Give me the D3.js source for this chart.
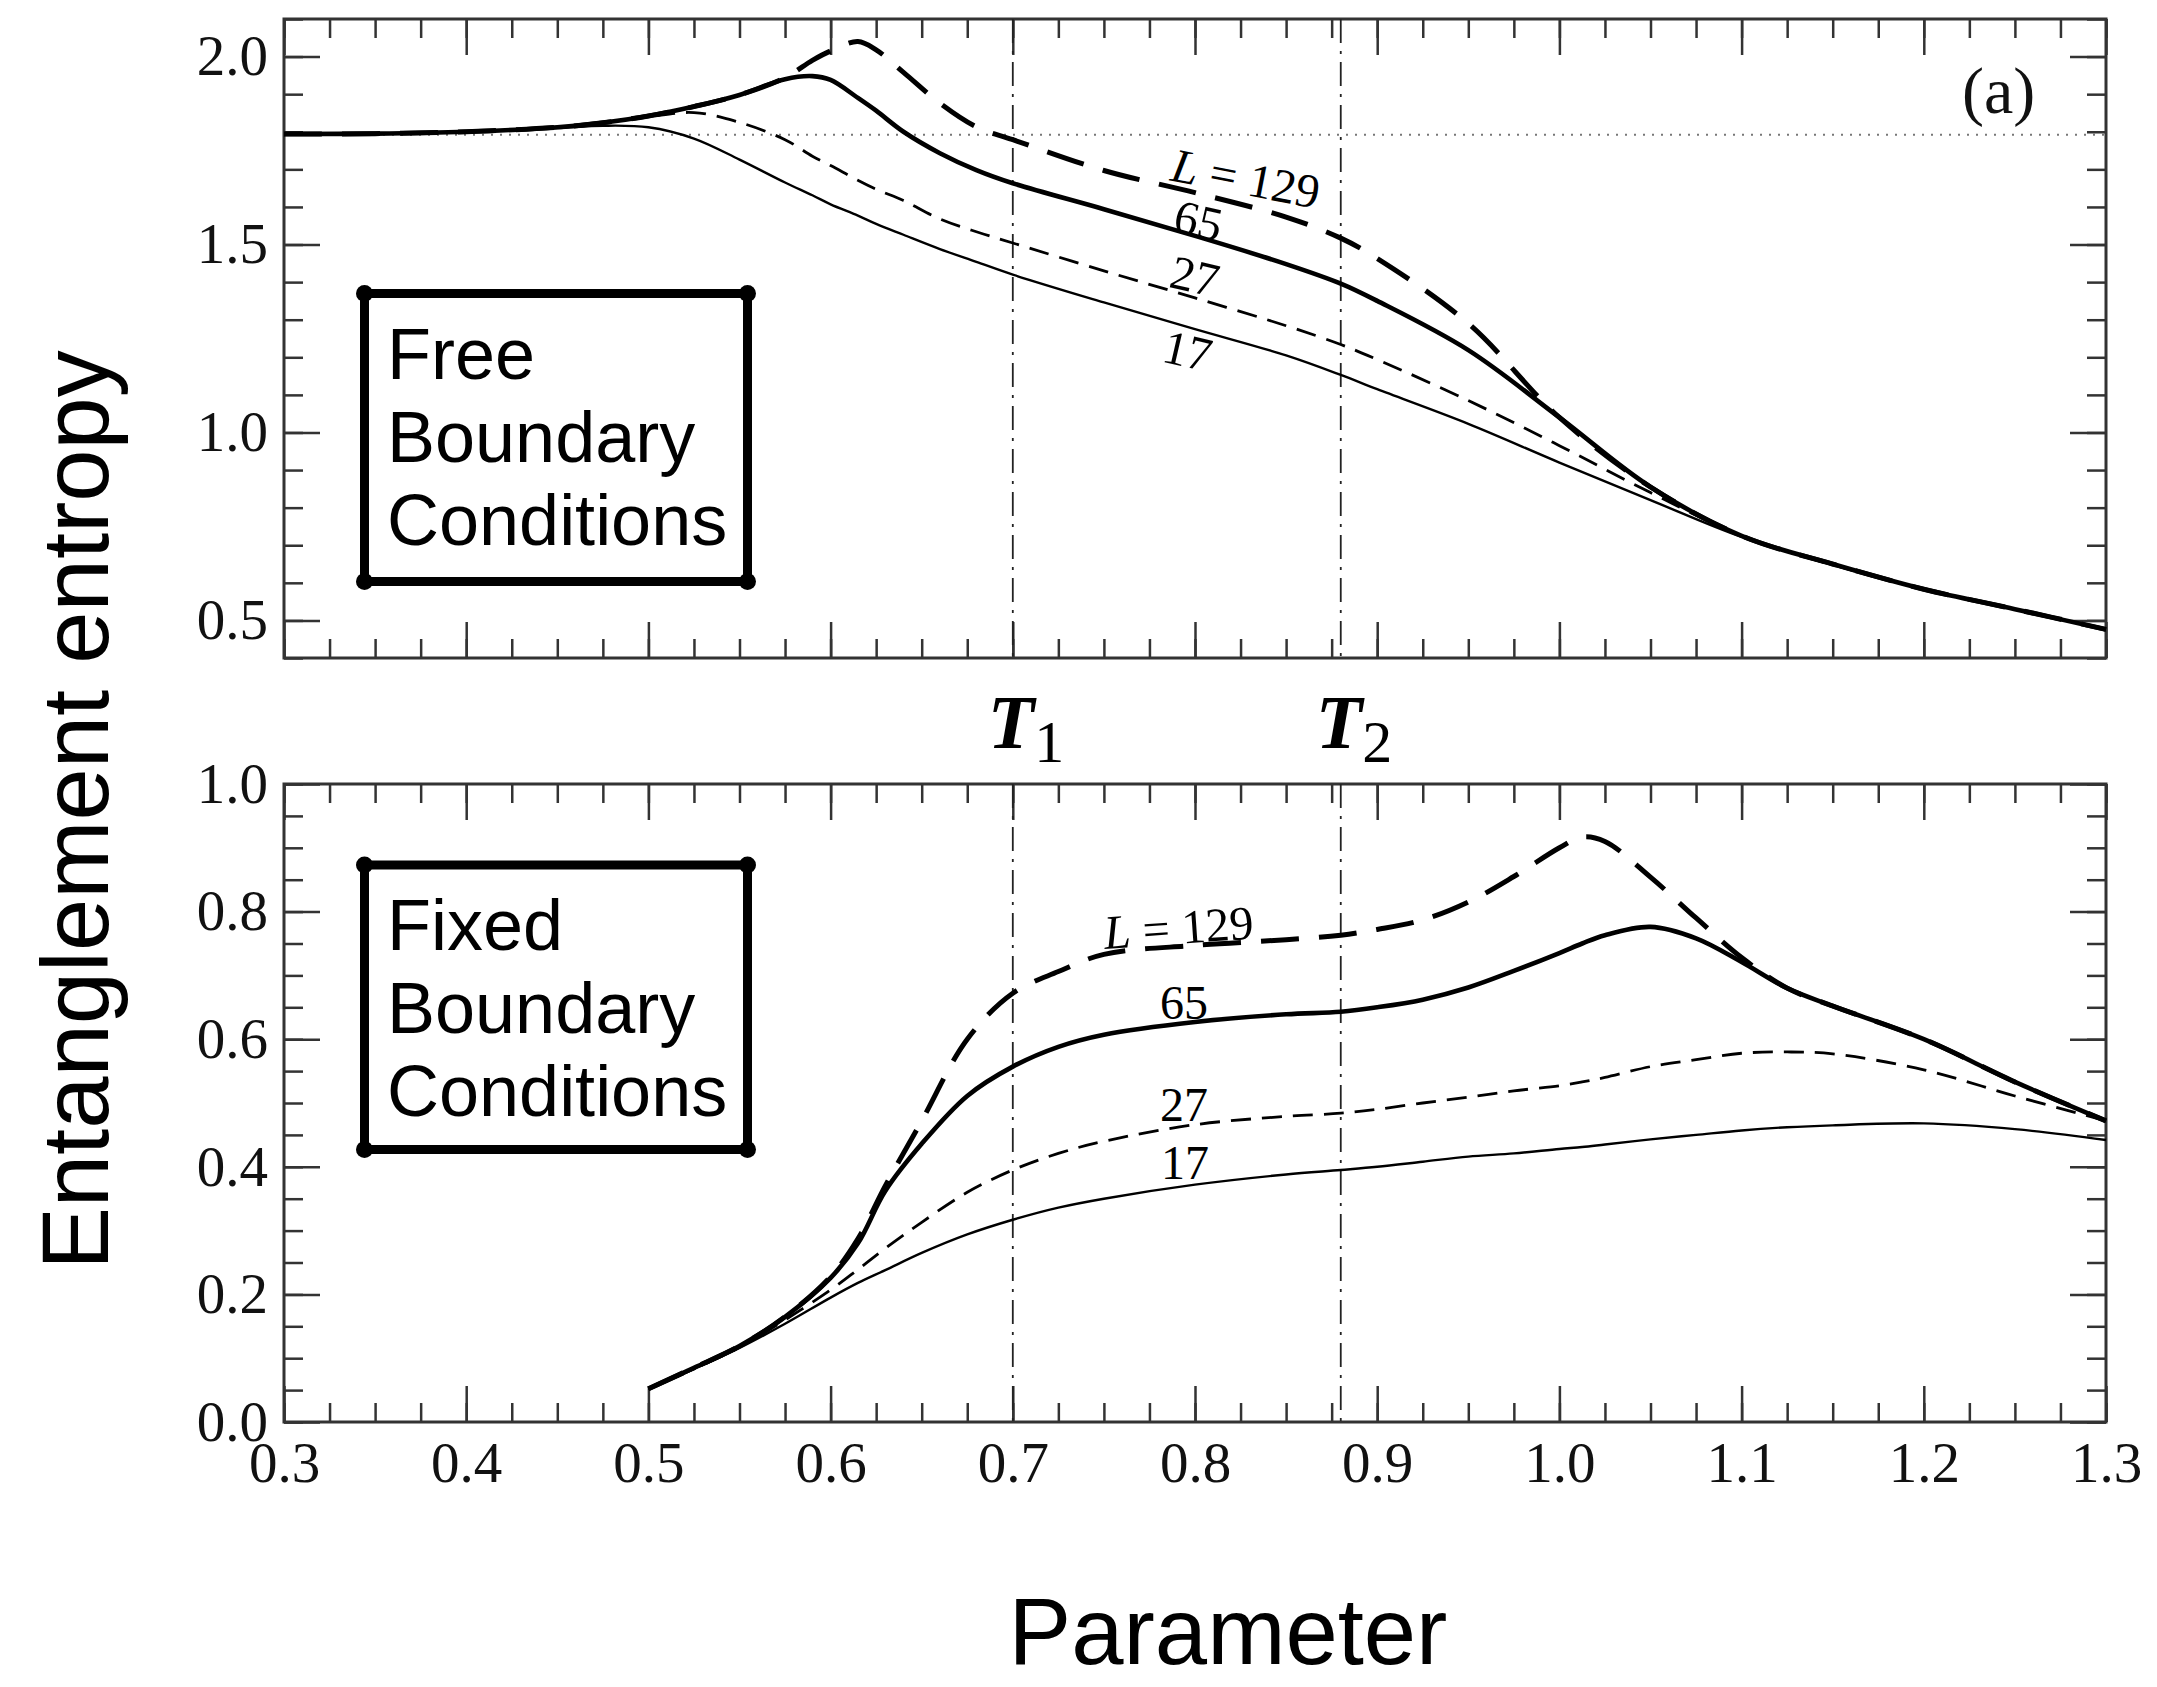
<!DOCTYPE html>
<html>
<head>
<meta charset="utf-8">
<script src="https://cdn.jsdelivr.net/npm/d3@7"></script>
<style>
  body { margin: 0; background: #fff; }
  svg { display: block; }
</style>
</head>
<body>
<div id="chart"></div>
<script>
// ---- data ----
// top panel: free boundary conditions
const topX    = [0.30, 0.35, 0.40, 0.45, 0.475, 0.50, 0.525, 0.55, 0.575, 0.59, 0.60, 0.615, 0.625, 0.64, 0.66, 0.68, 0.70, 0.75, 0.80, 0.85, 0.88, 0.90, 0.95, 1.00, 1.05, 1.10, 1.15, 1.20, 1.25, 1.30];
const topL17  = [1.794, 1.795, 1.800, 1.810, 1.816, 1.812, 1.782, 1.726, 1.665, 1.631, 1.607, 1.577, 1.555, 1.526, 1.488, 1.454, 1.420, 1.346, 1.275, 1.205, 1.153, 1.115, 1.023, 0.920, 0.820, 0.722, 0.648, 0.583, 0.530, 0.476];
const topL27  = [1.794, 1.795, 1.800, 1.812, 1.824, 1.840, 1.851, 1.825, 1.779, 1.735, 1.710, 1.671, 1.647, 1.617, 1.568, 1.534, 1.504, 1.430, 1.358, 1.284, 1.234, 1.194, 1.085, 0.965, 0.840, 0.725, 0.648, 0.583, 0.530, 0.476];
const topL65  = [1.794, 1.795, 1.800, 1.812, 1.824, 1.842, 1.867, 1.898, 1.940, 1.948, 1.938, 1.890, 1.856, 1.800, 1.743, 1.698, 1.663, 1.594, 1.523, 1.448, 1.396, 1.350, 1.219, 1.040, 0.855, 0.725, 0.650, 0.583, 0.530, 0.476];
const topL129 = [1.794, 1.795, 1.800, 1.812, 1.824, 1.842, 1.867, 1.898, 1.944, 1.990, 2.015, 2.040, 2.018, 1.958, 1.876, 1.813, 1.779, 1.697, 1.638, 1.573, 1.517, 1.463, 1.290, 1.040, 0.855, 0.725, 0.650, 0.583, 0.530, 0.476];

// bottom panel: fixed boundary conditions
const botX    = [0.50, 0.525, 0.55, 0.575, 0.60, 0.615, 0.63, 0.65, 0.675, 0.70, 0.725, 0.75, 0.80, 0.85, 0.88, 0.90, 0.925, 0.95, 0.975, 1.00, 1.0125, 1.025, 1.05, 1.075, 1.10, 1.125, 1.15, 1.20, 1.25, 1.30];
const botL17  = [0.052, 0.083, 0.116, 0.154, 0.195, 0.218, 0.238, 0.265, 0.294, 0.317, 0.336, 0.350, 0.372, 0.388, 0.395, 0.400, 0.408, 0.416, 0.421, 0.428, 0.431, 0.435, 0.443, 0.450, 0.457, 0.462, 0.465, 0.468, 0.459, 0.442];
const botL27  = [0.052, 0.083, 0.117, 0.160, 0.207, 0.239, 0.272, 0.313, 0.360, 0.395, 0.421, 0.440, 0.466, 0.479, 0.484, 0.490, 0.500, 0.509, 0.519, 0.527, 0.533, 0.540, 0.557, 0.568, 0.578, 0.580, 0.577, 0.552, 0.511, 0.472];
const botL65  = [0.052, 0.085, 0.119, 0.165, 0.226, 0.280, 0.362, 0.436, 0.511, 0.557, 0.588, 0.607, 0.627, 0.639, 0.643, 0.650, 0.662, 0.681, 0.707, 0.735, 0.750, 0.763, 0.776, 0.758, 0.721, 0.680, 0.652, 0.600, 0.533, 0.472];
const botL129 = [0.052, 0.085, 0.119, 0.165, 0.228, 0.287, 0.370, 0.472, 0.600, 0.672, 0.706, 0.733, 0.747, 0.756, 0.763, 0.772, 0.787, 0.815, 0.855, 0.900, 0.917, 0.910, 0.854, 0.790, 0.728, 0.680, 0.652, 0.600, 0.533, 0.472];

const sizes = ["129", "27", "17", "65"];   // drawing order, thick solid on top

// ticks
const xMajorTicks    = [0.3, 0.4, 0.5, 0.6, 0.7, 0.8, 0.9, 1.0, 1.1, 1.2, 1.3];
const topYMajorTicks = [0.5, 1.0, 1.5, 2.0];
const botYMajorTicks = [0.0, 0.2, 0.4, 0.6, 0.8, 1.0];

// marked temperatures and reference level
const tMarks = [0.70, 0.88];
const tNames = ["1", "2"];
const topRefLevel = 1.792;

// curve labels (data coordinates)
const topLabelL = ["129", "65", "27", "17"];
const topLabelX = [0.828, 0.802, 0.800, 0.796];
const topLabelY = [1.677, 1.565, 1.417, 1.219];
const botLabelL = ["129", "65", "27", "17"];
const botLabelX = [0.791, 0.794, 0.794, 0.7945];
const botLabelY = [0.776, 0.658, 0.498, 0.408];

const topBoxText = ["Free", "Boundary", "Conditions"];
const botBoxText = ["Fixed", "Boundary", "Conditions"];

// ---- drawing ----
const W = 2157, H = 1687;
const serif = "'Liberation Serif', 'Times New Roman', serif";
const sans = "'Liberation Sans', Arial, sans-serif";

const styles = {
  "17":  { w: 2.4, dash: null },
  "27":  { w: 2.8, dash: "20,11" },
  "65":  { w: 4.6, dash: null },
  "129": { w: 5,   dash: "38,20" }
};

const svg = d3.select("#chart").append("svg")
  .attr("width", W)
  .attr("height", H)
  .style("background", "#fff");

const x = d3.scaleLinear().domain([0.3, 1.3]).range([284, 2106]);
const yTop = d3.scaleLinear().domain([0.4, 2.1]).range([658, 19]);
const yBot = d3.scaleLinear().domain([0, 1]).range([1422, 784]);

function minorTicks(lo, hi, step) {
  const n = Math.round((hi - lo) / step);
  return d3.range(n + 1).map(i => +(lo + i * step).toFixed(4));
}

function addAxis(g, axis, tx, ty, values, size, labels, pad) {
  const a = g.append("g")
    .attr("transform", `translate(${tx},${ty})`)
    .call(axis.tickValues(values)
      .tickSize(-size)
      .tickSizeOuter(0)
      .tickPadding(pad || 16)
      .tickFormat(labels ? d3.format(".1f") : ""));
  a.select(".domain").remove();
  a.selectAll("line").attr("stroke", "#333").attr("stroke-width", 2.5);
  a.selectAll("text")
    .attr("font-family", serif)
    .attr("font-size", 57)
    .attr("fill", "#111");
}

function drawPanel(y, xs, series, yMajor, yMinorStep, showXLabels, labels, boxText, boxTop, boxBottom) {
  const g = svg.append("g");
  const [x0, x1] = x.range();
  const [yb, yt] = y.range();
  const [d0, d1] = y.domain();

  // ticks on all four sides
  const xMinor = minorTicks(0.3, 1.3, 0.025);
  const yMinor = minorTicks(d0, d1, yMinorStep);
  addAxis(g, d3.axisBottom(x), 0, yb, xMinor, 19, false);
  addAxis(g, d3.axisTop(x), 0, yt, xMinor, 19, false);
  addAxis(g, d3.axisBottom(x), 0, yb, xMajorTicks, 36, showXLabels, 20);
  addAxis(g, d3.axisTop(x), 0, yt, xMajorTicks, 36, false);
  addAxis(g, d3.axisLeft(y), x0, 0, yMinor, 19, false);
  addAxis(g, d3.axisRight(y), x1, 0, yMinor, 19, false);
  addAxis(g, d3.axisLeft(y), x0, 0, yMajor, 36, true);
  addAxis(g, d3.axisRight(y), x1, 0, yMajor, 36, false);

  // frame
  g.append("rect")
    .attr("x", x0).attr("y", yt)
    .attr("width", x1 - x0).attr("height", yb - yt)
    .attr("fill", "none")
    .attr("stroke", "#333")
    .attr("stroke-width", 3);

  // T1 / T2 dash-dot markers
  g.selectAll(".tmark")
    .data(tMarks)
    .enter()
    .append("line")
    .attr("x1", d => x(d)).attr("x2", d => x(d))
    .attr("y1", yt).attr("y2", yb)
    .attr("stroke", "#222")
    .attr("stroke-width", 1.8)
    .attr("stroke-dasharray", "24,8,3,8");

  // curves
  const line = d3.line()
    .x(d => x(d[0]))
    .y(d => y(d[1]))
    .curve(d3.curveCatmullRom.alpha(0.5));

  sizes.forEach(L => {
    const pts = xs.map((v, i) => [v, series[L][i]]);
    g.append("path")
      .datum(pts)
      .attr("fill", "none")
      .attr("stroke", "#000")
      .attr("stroke-width", styles[L].w)
      .attr("stroke-dasharray", styles[L].dash)
      .attr("stroke-linecap", "butt")
      .attr("d", line);
  });

  // curve labels
  labels.L.forEach((L, i) => {
    const t = g.append("text")
      .attr("transform", `translate(${x(labels.x[i])},${y(labels.y[i])}) rotate(${labels.rot[i]})`)
      .attr("text-anchor", "middle")
      .attr("dy", "0.35em")
      .attr("font-family", serif)
      .attr("font-size", 48)
      .attr("fill", "#000");
    if (L === "129") {
      t.append("tspan").attr("font-style", "italic").text("L");
      t.append("tspan").text(" = 129");
    } else {
      t.text(L);
    }
  });

  // boxed panel note
  const bx0 = 364.5, bx1 = 747.5;
  g.append("rect")
    .attr("x", bx0).attr("y", boxTop)
    .attr("width", bx1 - bx0).attr("height", boxBottom - boxTop)
    .attr("fill", "#fff")
    .attr("stroke", "#000")
    .attr("stroke-width", 9)
    .attr("stroke-linejoin", "round");
  [[bx0, boxTop], [bx1, boxTop], [bx0, boxBottom], [bx1, boxBottom]].forEach(c => {
    g.append("circle").attr("cx", c[0]).attr("cy", c[1]).attr("r", 8.5).attr("fill", "#000");
  });
  boxText.forEach((s, i) => {
    g.append("text")
      .attr("x", 387)
      .attr("y", boxTop + 85 + i * 83)
      .attr("font-family", sans)
      .attr("font-size", 72)
      .attr("fill", "#000")
      .text(s);
  });

  return g;
}

const topPanel = drawPanel(yTop, topX,
  { "17": topL17, "27": topL27, "65": topL65, "129": topL129 },
  topYMajorTicks, 0.1, false,
  { L: topLabelL, x: topLabelX, y: topLabelY, rot: [11, 13, 13, 13] },
  topBoxText, 293.5, 581.5);

// dotted reference level in the top panel
topPanel.append("line")
  .attr("x1", x(0.3)).attr("x2", x(1.3))
  .attr("y1", yTop(topRefLevel)).attr("y2", yTop(topRefLevel))
  .attr("stroke", "#777")
  .attr("stroke-width", 2)
  .attr("stroke-dasharray", "2,7")
  .lower();

topPanel.append("text")
  .attr("x", 1962)
  .attr("y", 113)
  .attr("font-family", serif)
  .attr("font-size", 66)
  .attr("fill", "#111")
  .text("(a)");

drawPanel(yBot, botX,
  { "17": botL17, "27": botL27, "65": botL65, "129": botL129 },
  botYMajorTicks, 0.05, true,
  { L: botLabelL, x: botLabelX, y: botLabelY, rot: [-4, 0, 0, 0] },
  botBoxText, 865, 1149.5);

// T1, T2 labels between the panels
tMarks.forEach((t, i) => {
  const txt = svg.append("text")
    .attr("x", x(t) - 25)
    .attr("y", 748)
    .attr("font-family", serif)
    .attr("fill", "#000");
  txt.append("tspan")
    .attr("font-style", "italic")
    .attr("font-weight", "bold")
    .attr("font-size", 76)
    .text("T");
  txt.append("tspan")
    .attr("font-size", 60)
    .attr("dy", 14)
    .text(tNames[i]);
});

// axis titles
svg.append("text")
  .attr("transform", "translate(108,810) rotate(-90)")
  .attr("text-anchor", "middle")
  .attr("font-family", sans)
  .attr("font-size", 94)
  .attr("fill", "#000")
  .text("Entanglement entropy");

svg.append("text")
  .attr("x", 1228)
  .attr("y", 1664)
  .attr("text-anchor", "middle")
  .attr("font-family", sans)
  .attr("font-size", 94)
  .attr("fill", "#000")
  .text("Parameter");
</script>
</body>
</html>
